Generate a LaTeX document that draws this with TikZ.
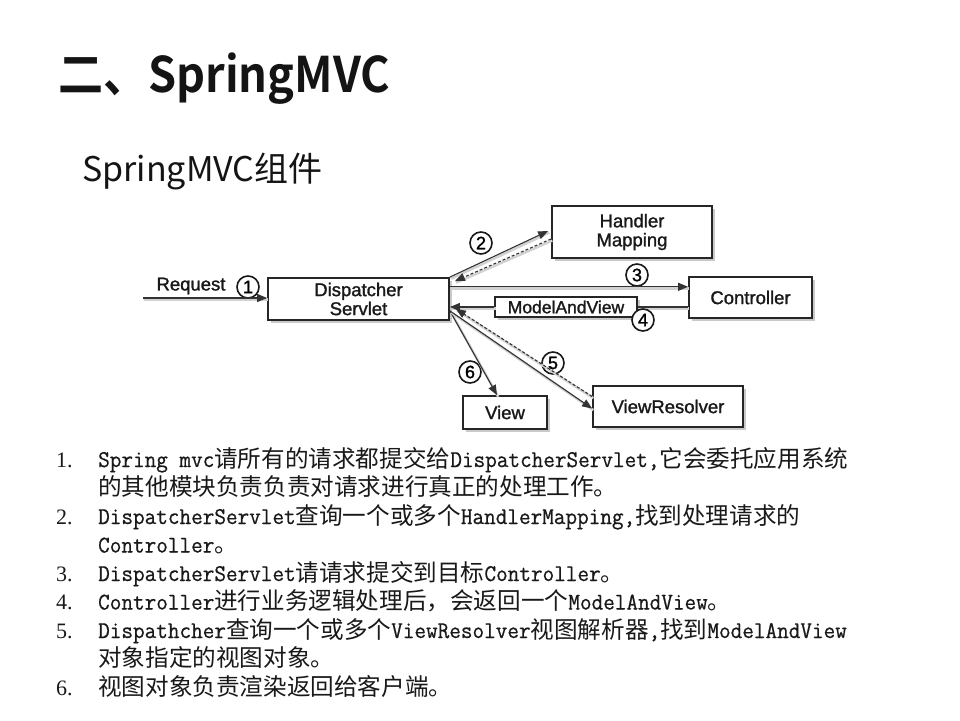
\documentclass[tikz,border=0pt]{standalone}
\usepackage{fontspec}
\setmainfont{Liberation Sans}
\newfontfamily\diagf[FakeBold=1.4]{Liberation Sans}
\newfontfamily\cjk{Noto Sans CJK SC}
\newfontfamily\cjkbold[FakeStretch=0.92]{Noto Sans CJK SC Bold}
\newfontfamily\monof[FakeStretch=0.94, FakeBold=0.6]{Latin Modern Mono}
\newfontfamily\numf{Liberation Serif}
\usetikzlibrary{arrows.meta,shadows}

% Chinese run inside the monospaced step list
\newcommand{\zh}[1]{{\cjk\fontsize{23.6}{28}\selectfont #1}}

\tikzset{
  comp/.style={draw=black!85, line width=1.8pt, fill=white, inner sep=0pt,
    align=center, font=\diagf\fontsize{18.5}{19}\selectfont, text=black!90,
    drop shadow={shadow xshift=2.5pt, shadow yshift=-2.5pt, fill=black!35, opacity=0.6}},
  numc/.style={circle, draw=black!90, line width=1.6pt, fill=white,
    minimum size=22pt, inner sep=0pt, font=\diagf\fontsize{18}{18}\selectfont},
  lineshade/.style={preaction={draw=black!18, line width=2.4pt, -,
    transform canvas={xshift=1.2pt, yshift=-1.6pt}}},
  arr/.style={draw=black!80, line width=1.1pt, lineshade,
    -{Triangle[length=10pt,width=8pt]}},
  back/.style={arr, dashed, dash pattern=on 3pt off 2pt},
  stepline/.style={anchor=base west, inner sep=0pt,
    font=\monof\fontsize{24}{28}\selectfont, text=black!90},
  stepnum/.style={anchor=base west, inner sep=0pt,
    font=\numf\fontsize{22}{28}\selectfont, text=black!90}
}

\begin{document}
\begin{tikzpicture}[x=1pt,y=-1pt]
\useasboundingbox[fill=white] (0,0) rectangle (960,720);

% headings
\node[anchor=base west, inner sep=0pt, text=black!92] (title) at (58,92)
  {\cjkbold\fontsize{49}{58}\selectfont 二、SpringMVC};
\node[anchor=base west, inner sep=0pt, text=black!92] (subtitle) at (82,181)
  {\cjk\fontsize{34}{40}\selectfont SpringMVC组件};

% components
\node[comp, minimum width=181pt, minimum height=42pt] (ds) at (358.5,299)
  {Dispatcher\\Servlet};
\node[comp, minimum width=160pt, minimum height=52pt] (hm) at (632,232)
  {Handler\\Mapping};
\node[comp, minimum width=123pt, minimum height=41pt] (ctrl) at (750.5,297.5)
  {Controller};
\node[comp, minimum width=84pt, minimum height=33pt] (view) at (505,412.5)
  {View};
\node[comp, minimum width=150pt, minimum height=41pt] (vr) at (668,406.5)
  {ViewResolver};
\node[comp, line width=1.3pt, minimum width=142pt, minimum height=20pt,
  font=\diagf\fontsize{17.5}{18}\selectfont] (mav) at (566,307) {ModelAndView};

% incoming request
\node[inner sep=0pt, font=\diagf\fontsize{18.5}{20}\selectfont, text=black!90]
  (req) at (191,286) {Request};
\coordinate (client) at (143,298);

% step number markers
\node[numc] (c1) at (248,287) {1};
\node[numc] (c2) at (481,243) {2};
\node[numc] (c3) at (637,275) {3};
\node[numc] (c5) at (553,363) {5};
\node[numc] (c6) at (470,372) {6};

% flow connectors
\draw[arr] (client) -- (client -| ds.west);
\draw[arr] (ds.north east) -- ([xshift=-3pt,yshift=1pt]hm.west);
\draw[back] ([yshift=-7pt]hm.west) -- ([xshift=5pt,yshift=-4pt]ds.north east);
\draw[arr] (ds.east |- c3.south) -- (ctrl.west |- c3.south);
\draw[draw=black!80, line width=1.1pt, lineshade] (ctrl.west |- mav.east) -- (mav.east);
\draw[arr] (mav.west) -- (ds.east |- mav.west);
\draw[arr] ([yshift=10pt]ds.south east) -- ([xshift=-8pt]view.north);
\draw[arr] ([yshift=10pt]ds.south east) -- ([yshift=-2pt]vr.west);
\draw[back] ([yshift=10pt]vr.west) -- ([xshift=6pt,yshift=12pt]ds.south east);

\node[numc] (c4) at (643,320) {4};

% numbered explanation
\node[stepnum] (n1) at (56,467) {1.};
\node[stepline] (l1) at (98,467)
  {Spring mvc\zh{请所有的请求都提交给}DispatcherServlet,\zh{它会委托应用系统}};
\node[stepline] (l1b) at (98,495.5)
  {\zh{的其他模块负责负责对请求进行真正的处理工作。}};
\node[stepnum] (n2) at (56,524) {2.};
\node[stepline] (l2) at (98,524)
  {DispatcherServlet\zh{查询一个或多个}HandlerMapping,\zh{找到处理请求的}};
\node[stepline] (l2b) at (98,552.5) {Controller\zh{。}};
\node[stepnum] (n3) at (56,581) {3.};
\node[stepline] (l3) at (98,581)
  {DispatcherServlet\zh{请请求提交到目标}Controller\zh{。}};
\node[stepnum] (n4) at (56,609.5) {4.};
\node[stepline] (l4) at (98,609.5)
  {Controller\zh{进行业务逻辑处理后，会返回一个}ModelAndView\zh{。}};
\node[stepnum] (n5) at (56,638) {5.};
\node[stepline] (l5) at (98,638)
  {Dispathcher\zh{查询一个或多个}ViewResolver\zh{视图解析器},\zh{找到}ModelAndView};
\node[stepline] (l5b) at (98,666.5) {\zh{对象指定的视图对象。}};
\node[stepnum] (n6) at (56,695) {6.};
\node[stepline] (l6) at (98,695) {\zh{视图对象负责渲染返回给客户端。}};
\end{tikzpicture}
\end{document}
